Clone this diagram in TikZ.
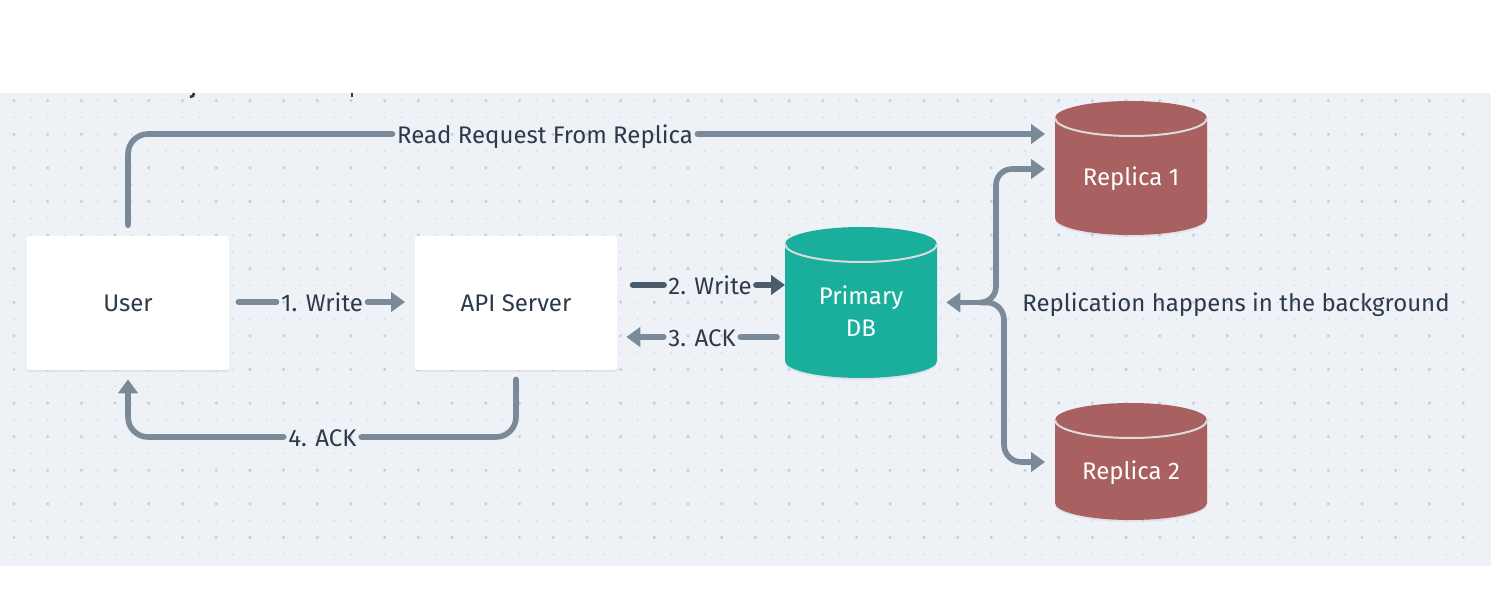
\documentclass[tikz,border=0pt]{standalone}
\usepackage{fontspec}
\setmainfont{Fira Sans}
\usetikzlibrary{arrows.meta,shadows}
\definecolor{boardbg}{HTML}{EEF2F6}
\definecolor{dotcol}{HTML}{C3D0DF}
\definecolor{dotpale}{HTML}{D3DCE6}
\definecolor{flowcol}{HTML}{7A8A99}
\definecolor{flowdark}{HTML}{4A5B6C}
\definecolor{inkcol}{HTML}{2C3A4B}
\definecolor{dbgreen}{HTML}{1AAE9C}
\definecolor{repred}{HTML}{A96060}
\definecolor{rimcol}{HTML}{D9DCDC}
\tikzset{
	softshadow/.style={drop shadow={shadow xshift=0pt,shadow yshift=-1.5pt,opacity=0.06,fill=black}},
	box/.style={fill=white,rounded corners=2pt,minimum width=151.5pt,minimum height=100.5pt,inner sep=0pt,outer sep=0pt,text=inkcol,font=\fontsize{18}{24}\selectfont,softshadow},
	drum/.style={minimum width=114pt,inner sep=0pt,outer sep=0pt,text=white,align=center,font=\fontsize{18}{24}\selectfont},
	tag/.style={inner sep=0pt,outer sep=3.5pt,text height=15.9pt,text depth=2pt,text=inkcol,font=\fontsize{18}{24}\selectfont},
	flow/.style={draw=flowcol,line width=4.2pt,line cap=round,-{Triangle[length=10.5pt,width=14.5pt]}},
	plain/.style={draw=flowcol,line width=4.2pt,line cap=round},
	rimline/.style={draw=rimcol,line width=1.5pt},
}
\begin{document}
\begin{tikzpicture}[x=0.75pt,y=-0.75pt]
	\useasboundingbox (0,0) rectangle (1500,609);
	\fill[boardbg] (0,93) rectangle (1491,566);
	% dotted board
	\foreach \i in {0,...,87}{
		\foreach \j in {0,...,27}{
			\fill[dotpale] (14+16.85*\i,100.7+16.8*\j) circle (0.75pt);
		}
	}
	\foreach \i in {0,2,...,86}{
		\foreach \j in {0,2,...,26}{
			\fill[dotcol] (14+16.85*\i,100.7+16.8*\j) circle (1.3pt);
		}
	}
	% ends of the text cut off above the board
	\draw[inkcol,line width=2pt] (194,93) -- (193,96) -- (190,97);
	\draw[inkcol,line width=2pt] (352,93) -- (352,97);

	\node[box] (user) at (128,303) {User};
	\node[box] (api) at (516,303) {API Server};
	\foreach \n/\x/\y/\t/\b/\c/\s in {db/861/311/227/378/dbgreen/{Primary\\DB},rep1/1131/179/101/235/repred/{Replica 1},rep2/1131/473/403/520/repred/{Replica 2}}{
		\path[fill=\c,softshadow] (\x-76,\t+17) arc[start angle=180,end angle=0,x radius=57pt,y radius=12.75pt]
			-- (\x+76,\b-17) arc[start angle=0,end angle=-180,x radius=57pt,y radius=12.75pt] -- cycle;
		\draw[rimline] (\x-76,\t+17) arc[start angle=180,end angle=360,x radius=57pt,y radius=13.5pt];
		\node[drum] (\n) at (\x,\y) {\s};
	}

	\node[tag] (readlabel) at (545,134) {Read Request From Replica};
	\node[tag] (w1) at (322,302) {1. Write};
	\node[tag] (w2) at (710,285) {2. Write};
	\node[tag] (ack3) at (702,337) {3. ACK};
	\node[tag] (ack4) at (322.5,437) {4. ACK};
	\node[tag] (bgnote) at (1236,302.5) {Replication happens in the background};
	\coordinate (fork) at (985,302.5);
	\coordinate (upbend) at (996,169);
	\coordinate (lowbend) at (1004,462);

	\draw[plain,rounded corners=15pt,shorten <=8pt] (user.north) |- (readlabel.west);
	\draw[flow,shorten >=7.5pt] (readlabel.east) -- (readlabel.east -| rep1.west);
	\draw[plain,shorten <=7pt] (user.east |- w1) -- (w1.west);
	\draw[flow,shorten >=7.5pt] (w1.east) -- (w1.east -| api.west);
	\draw[plain,draw=flowdark,line width=4.8pt,shorten <=12pt] (api.east |- w2) -- (w2.west);
	\draw[flow,draw=flowdark,line width=4.8pt] (w2.east) -- (w2.east -| db.west);
	\draw[plain,shorten <=6pt] (ack3.east -| db.west) -- (ack3.east);
	\draw[flow,shorten >=7pt] (ack3.west) -- (ack3.west -| api.east);
	\draw[plain,rounded corners=15pt,shorten <=7pt] (api.south) |- (ack4.east);
	\draw[flow,rounded corners=15pt,shorten >=7pt] (ack4.west) -| (user.south);

	% replication fork
	\draw[flow,shorten >=7pt] (fork) -- (fork -| db.east);
	\draw[flow,shorten >=7.5pt,rounded corners=12pt] (fork) -| (upbend) -- (upbend -| rep1.west);
	\draw[flow,shorten >=7.5pt,rounded corners=13pt] (fork) -| (lowbend) -- (lowbend -| rep2.west);
\end{tikzpicture}
\end{document}
